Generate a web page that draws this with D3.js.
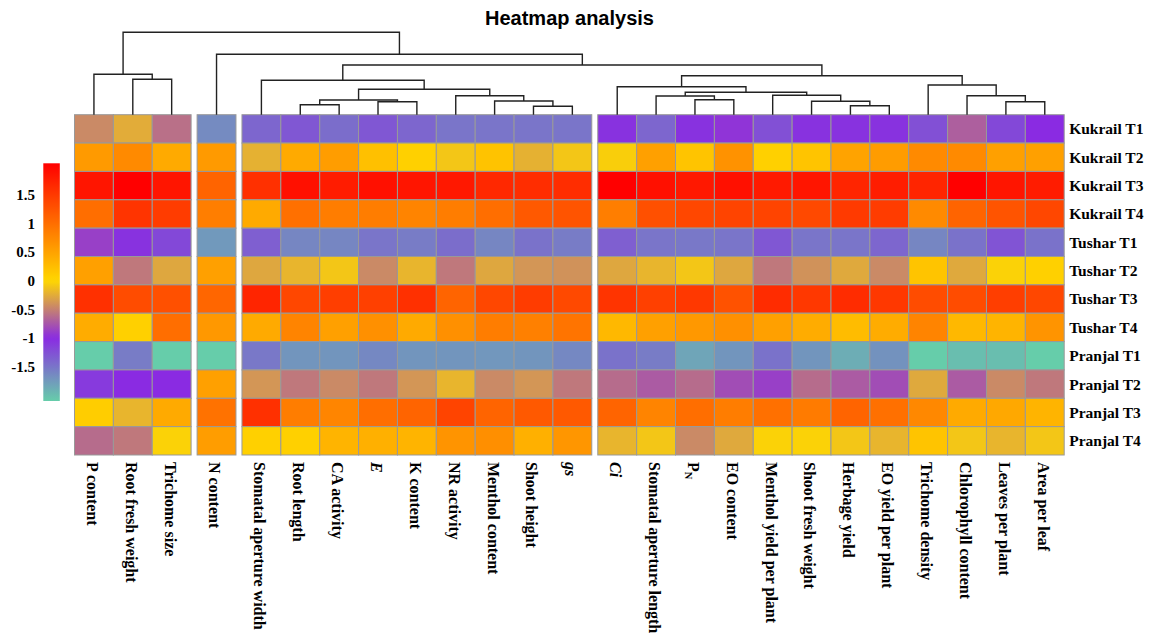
<!DOCTYPE html>
<html>
<head>
<meta charset="utf-8">
<script src="https://cdn.jsdelivr.net/npm/d3@7/dist/d3.min.js"></script>
<style>
  html, body { margin: 0; padding: 0; background: #fff; }
  svg { display: block; }
  .serif { font-family: "Liberation Serif", "Times New Roman", serif; font-weight: bold; }
</style>
</head>
<body>
<svg id="chart" width="1160" height="635"></svg>
<script>
// Treatments (rows), top to bottom
const rowNames = ["Kukrail T1", "Kukrail T2", "Kukrail T3", "Kukrail T4",
  "Tushar T1", "Tushar T2", "Tushar T3", "Tushar T4",
  "Pranjal T1", "Pranjal T2", "Pranjal T3", "Pranjal T4"];

// Traits (columns), in dendrogram order
const colNames = ["P content", "Root fresh weight", "Trichome size",
  "N content",
  "Stomatal aperture width", "Root length", "CA activity", "E", "K content",
  "NR activity", "Menthol content", "Shoot height", "gs",
  "Ci", "Stomatal aperture length", "PN", "EO content", "Menthol yield per plant",
  "Shoot fresh weight", "Herbage yield", "EO yield per plant", "Trichome density",
  "Chlorophyll content", "Leaves per plant", "Area per leaf"];

// Column clusters (cut of the column tree)
const colGroupSizes = [3, 1, 9, 12];

// Labels set in italics / with a subscript
const italicLabels = ["E", "gs", "Ci"];
const subscriptLabels = { "PN": ["P", "N"] };

// Scaled values per treatment, one entry per column above
const kukrailT1 = [-0.45, -0.25, -0.6, -1.65, -1.4, -1.3, -1.45, -1.3, -1.4, -1.5, -1.5, -1.5, -1.5,
  -1.05, -1.4, -1.05, -0.95, -1.25, -1.05, -1.05, -1.05, -1.25, -0.7, -1.2, -1.0];
const kukrailT2 = [0.58, 0.73, 0.43, 0.58, -0.22, 0.43, 0.55, 0.22, 0.07, -0.1, 0.19, -0.22, -0.1,
  -0.05, 0.52, 0.18, 0.66, 0.07, 0.18, 0.5, 0.56, 0.73, 0.73, 0.52, 0.52];
const kukrailT3 = [1.85, 2.05, 1.85, 1.1, 1.59, 1.9, 1.78, 1.9, 1.85, 1.82, 1.67, 1.62, 1.62,
  2.05, 1.9, 1.82, 1.9, 1.8, 1.85, 1.7, 1.77, 1.7, 2.05, 1.85, 1.78];
const kukrailT4 = [1.0, 1.55, 1.48, 0.85, 0.43, 0.98, 0.86, 0.86, 0.79, 0.86, 1.0, 1.2, 1.25,
  0.85, 1.29, 1.37, 1.4, 1.4, 1.35, 1.5, 1.48, 0.73, 1.1, 1.25, 1.37];
const tusharT1 = [-0.88, -1.05, -1.2, -1.75, -1.35, -1.62, -1.62, -1.5, -1.55, -1.45, -1.62, -1.48, -1.55,
  -1.35, -1.5, -1.52, -1.5, -1.3, -1.5, -1.5, -1.4, -1.62, -1.48, -1.28, -1.48];
const tusharT2 = [0.52, -0.55, -0.28, 0.52, -0.28, -0.2, -0.1, -0.45, -0.2, -0.55, -0.28, -0.38, -0.4,
  -0.28, -0.2, -0.1, -0.28, -0.55, -0.4, -0.27, -0.45, 0.18, -0.27, -0.03, 0.07];
const tusharT3 = [1.59, 1.33, 1.29, 1.08, 1.7, 1.37, 1.46, 1.44, 1.59, 1.1, 1.37, 1.48, 1.35,
  1.55, 1.44, 1.52, 1.27, 1.63, 1.52, 1.63, 1.52, 1.33, 1.33, 1.46, 1.37];
const tusharT4 = [0.41, 0.07, 1.0, 0.6, 0.43, 0.79, 0.52, 0.68, 0.43, 0.68, 0.86, 0.83, 0.94,
  0.3, 0.52, 0.6, 0.68, 0.52, 0.41, 0.26, 0.41, 0.79, 0.3, 0.33, 0.64];
const pranjalT1 = [-2.1, -1.55, -2.1, -2.1, -1.52, -1.72, -1.72, -1.63, -1.72, -1.72, -1.73, -1.72, -1.63,
  -1.48, -1.55, -1.83, -1.72, -1.48, -1.72, -1.88, -1.7, -2.1, -2.0, -2.0, -2.1];
const pranjalT2 = [-1.1, -1.0, -1.0, 0.52, -0.38, -0.55, -0.45, -0.55, -0.38, -0.2, -0.45, -0.38, -0.55,
  -0.62, -0.72, -0.62, -0.8, -0.88, -0.62, -0.72, -0.8, -0.27, -0.72, -0.45, -0.55];
const pranjalT3 = [0.1, -0.2, 0.43, 0.96, 1.59, 0.86, 0.78, 1.0, 1.1, 1.4, 1.1, 1.2, 1.2,
  1.1, 0.79, 1.0, 0.86, 0.98, 0.88, 1.1, 0.98, 0.75, 0.43, 0.45, 0.33];
const pranjalT4 = [-0.62, -0.55, -0.03, 0.55, 0.07, 0.07, 0.33, 0.37, 0.33, 0.64, 0.69, 0.37, 0.62,
  -0.2, -0.1, -0.45, -0.27, -0.03, -0.03, -0.1, -0.2, 0.18, -0.1, -0.2, -0.1];

const values = [kukrailT1, kukrailT2, kukrailT3, kukrailT4, tusharT1, tusharT2, tusharT3, tusharT4,
  pranjalT1, pranjalT2, pranjalT3, pranjalT4];

// Column tree as successive merges: [left, right, height]; numbers refer to earlier merges
const colMerges = [
  ["Root fresh weight", "Trichome size", 7.08],
  ["P content", 0, 8.08],
  ["Root length", "CA activity", 2.0],
  ["E", "K content", 2.6],
  [2, 3, 2.94],
  ["Shoot height", "gs", 1.68],
  ["Menthol content", 5, 2.74],
  ["NR activity", 6, 3.8],
  [4, 7, 5.08],
  ["Stomatal aperture width", 8, 6.88],
  ["PN", "EO content", 3.0],
  ["Stomatal aperture length", 10, 3.74],
  ["Herbage yield", "EO yield per plant", 1.8],
  ["Shoot fresh weight", 12, 2.68],
  ["Menthol yield per plant", 13, 3.88],
  [11, 14, 4.48],
  ["Ci", 15, 5.6],
  ["Leaves per plant", "Area per leaf", 2.6],
  ["Chlorophyll content", 17, 3.8],
  ["Trichome density", 18, 5.94],
  [16, 19, 7.8],
  [9, 20, 9.94],
  ["N content", 21, 12.08],
  [1, 22, 16.48]
];

// Colour key
const legendTicks = [1.5, 1, 0.5, 0, -0.5, -1, -1.5];
const colorStops = [-2.1, -1, 0, 2.05];
const colorRange = ["#66CDAA", "#8A2BE2", "#FFD700", "#FF0000"];

// ---------------------------------------------------------------
const svg = d3.select("#chart");

const color = d3.scaleLinear().domain(colorStops).range(colorRange)
  .interpolate(d3.interpolateRgb).clamp(true);

const heatLeft = 74.5, heatRight = 1064.2, heatTop = 114.7, heatBottom = 455;
const gap = 6;
const nGaps = colGroupSizes.length - 1;

// group index for every column
const colGroup = [];
colGroupSizes.forEach((n, g) => { for (let i = 0; i < n; i++) colGroup.push(g); });

const xBand = d3.scaleBand().domain(colNames)
  .range([heatLeft, heatRight - nGaps * gap]).padding(0);
const cellW = xBand.bandwidth();
const colX = name => xBand(name) + colGroup[colNames.indexOf(name)] * gap;

const yBand = d3.scaleBand().domain(rowNames).range([heatTop, heatBottom]).padding(0);
const cellH = yBand.bandwidth();

// Cells
const cells = [];
values.forEach((row, r) => row.forEach((v, c) => cells.push({ row: rowNames[r], col: colNames[c], v })));

svg.append("g").selectAll("rect").data(cells).join("rect")
  .attr("x", d => colX(d.col))
  .attr("y", d => yBand(d.row))
  .attr("width", cellW)
  .attr("height", cellH)
  .attr("fill", d => color(d.v))
  .attr("stroke", "#999999")
  .attr("stroke-width", 1);

// Column dendrogram
const hMax = d3.max(colMerges, d => d[2]);
const yTree = d3.scaleLinear().domain([0, hMax]).range([heatTop, 32.3]);
const nodeX = [];
const treeG = svg.append("g").attr("fill", "none").attr("stroke", "#222").attr("stroke-width", 1.4);
colMerges.forEach(([a, b, h], i) => {
  const pos = k => typeof k === "number"
    ? { x: nodeX[k], y: yTree(colMerges[k][2]) }
    : { x: colX(k) + cellW / 2, y: yTree(0) };
  const pa = pos(a), pb = pos(b), yn = yTree(h);
  nodeX[i] = (pa.x + pb.x) / 2;
  treeG.append("path").attr("d", `M${pa.x},${pa.y}V${yn}H${pb.x}V${pb.y}`);
});

// Row labels
svg.append("g").selectAll("text").data(rowNames).join("text")
  .attr("class", "serif")
  .attr("x", heatRight + 5)
  .attr("y", d => yBand(d) + cellH / 2)
  .attr("dy", "0.35em")
  .attr("font-size", 15.5)
  .attr("fill", "#000")
  .text(d => d);

// Column labels (read top to bottom)
const colLab = svg.append("g").selectAll("text").data(colNames).join("text")
  .attr("class", "serif")
  .attr("font-size", 16)
  .attr("fill", "#000")
  .attr("transform", d => `translate(${colX(d) + cellW / 2 - 1.5},${heatBottom + 7}) rotate(90)`)
  .attr("dy", "0.35em")
  .attr("font-style", d => italicLabels.includes(d) ? "italic" : null);
colLab.each(function (d) {
  const t = d3.select(this);
  if (subscriptLabels[d]) {
    const [main, sub] = subscriptLabels[d];
    t.append("tspan").text(main);
    t.append("tspan").attr("font-size", 10.5).attr("dy", "0.3em").text(sub);
  } else {
    t.text(d);
  }
});

// Colour key
const keyX = 43.3, keyW = 16.5, keyTop = 163.3, keyBottom = 401;
const keyScale = d3.scaleLinear().domain([colorStops[0], colorStops[colorStops.length - 1]])
  .range([keyBottom, keyTop]);
const grad = svg.append("defs").append("linearGradient")
  .attr("id", "keyGrad").attr("x1", 0).attr("y1", 1).attr("x2", 0).attr("y2", 0);
d3.range(0, 1.0001, 0.02).forEach(t => {
  const v = keyScale.domain()[0] + t * (keyScale.domain()[1] - keyScale.domain()[0]);
  grad.append("stop").attr("offset", t).attr("stop-color", color(v));
});
svg.append("rect").attr("x", keyX).attr("y", keyTop).attr("width", keyW)
  .attr("height", keyBottom - keyTop).attr("fill", "url(#keyGrad)");
svg.append("g").selectAll("text").data(legendTicks).join("text")
  .attr("class", "serif")
  .attr("x", 35)
  .attr("y", d => keyScale(d))
  .attr("dy", "0.35em")
  .attr("text-anchor", "end")
  .attr("font-size", 15)
  .attr("fill", "#000")
  .text(d => d);

// Title
svg.append("text")
  .attr("x", 569.5).attr("y", 25)
  .attr("text-anchor", "middle")
  .attr("font-family", "'Liberation Sans', Arial, sans-serif")
  .attr("font-weight", "bold")
  .attr("font-size", 20)
  .attr("fill", "#000")
  .text("Heatmap analysis");
</script>
</body>
</html>
